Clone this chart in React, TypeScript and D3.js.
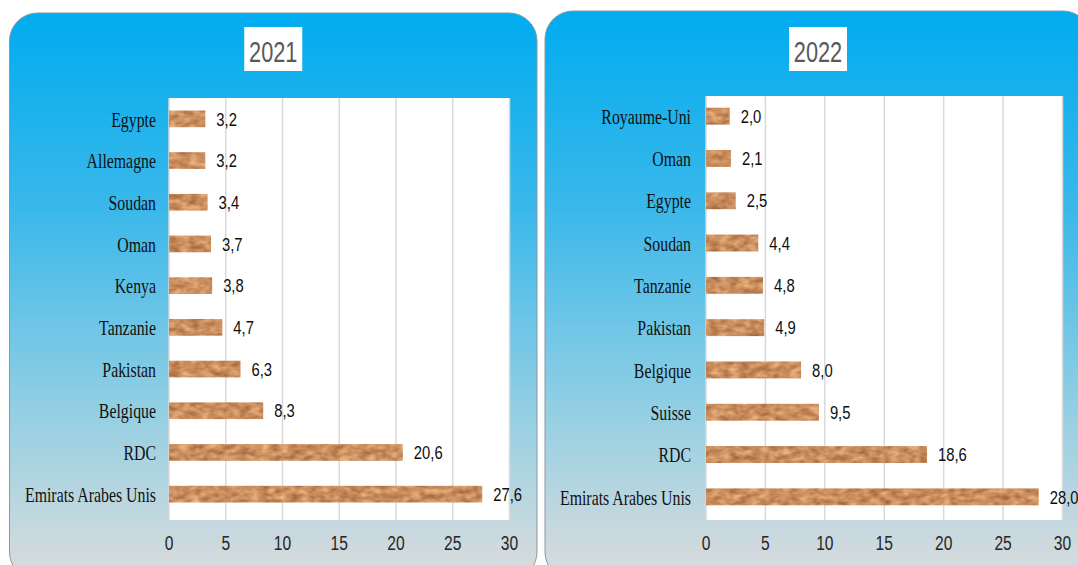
import React from "react";
import * as d3 from "d3";

const categories2021 = ["Egypte", "Allemagne", "Soudan", "Oman", "Kenya", "Tanzanie", "Pakistan", "Belgique", "RDC", "Emirats Arabes Unis"];
const values2021 = [3.2, 3.2, 3.4, 3.7, 3.8, 4.7, 6.3, 8.3, 20.6, 27.6];

const categories2022 = ["Royaume-Uni", "Oman", "Egypte", "Soudan", "Tanzanie", "Pakistan", "Belgique", "Suisse", "RDC", "Emirats Arabes Unis"];
const values2022 = [2.0, 2.1, 2.5, 4.4, 4.8, 4.9, 8.0, 9.5, 18.6, 28.0];

const xTicks = [0, 5, 10, 15, 20, 25, 30];
const xMax = 30;

const fmt = (v: number) => d3.format(".1f")(v).replace(".", ",");

const SANS = "'Liberation Sans', Arial, sans-serif";
const SERIF = "'Liberation Serif', 'Times New Roman', serif";

type PanelProps = {
  title: string;
  cats: string[];
  vals: number[];
  card: [number, number, number]; // x0, x1, top
  plotX: [number, number];
  plotY: [number, number];
  band: [number, number];
  labelRight: number;
};

function Panel({ title, cats, vals, card, plotX, plotY, band, labelRight }: PanelProps) {
  const [cx0, cx1, ctop] = card;
  const x = d3.scaleLinear().domain([0, xMax]).range(plotX);
  const y = d3.scaleBand<string>().domain(cats).range(band).paddingInner(0.6).paddingOuter(0.3);
  const titleCx = (cx0 + cx1) / 2;
  const bw = y.bandwidth();

  return (
    <g>
      <rect x={cx0} y={ctop} width={cx1 - cx0} height={580 - ctop} rx={28} ry={28}
        fill="url(#cardGrad)" stroke="#8a96a0" strokeWidth={1} />
      {/* title */}
      <rect x={titleCx - 29} y={27} width={58} height={44} fill="#fff" />
      <text transform={`translate(${titleCx},62) scale(0.75,1)`} textAnchor="middle"
        fontFamily={SANS} fontSize={29} fill="#595959">{title}</text>
      {/* plot area */}
      <rect x={plotX[0]} y={plotY[0]} width={plotX[1] - plotX[0]} height={plotY[1] - plotY[0]} fill="#fff" />
      {xTicks.map((t) => (
        <line key={"g" + t} x1={x(t)} x2={x(t)} y1={plotY[0]} y2={plotY[1]} stroke="#d9d9d9" strokeWidth={1.5} />
      ))}
      {xTicks.map((t) => (
        <text key={"t" + t} transform={`translate(${x(t)},550) scale(0.8,1)`} textAnchor="middle"
          fontFamily={SANS} fontSize={19.5} fill="#262626">{t}</text>
      ))}
      {cats.map((c, i) => {
        const yy = y(c)!;
        return (
          <g key={c}>
            <rect x={x(0)} y={yy} width={x(vals[i]) - x(0)} height={bw} fill="#c98b5a" filter="url(#sand)" />
            <text transform={`translate(${labelRight},${yy + bw / 2}) scale(0.72,1)`} dy="0.35em" textAnchor="end"
              fontFamily={SERIF} fontSize={22} fill="#111">{c}</text>
            <text transform={`translate(${x(vals[i]) + 11},${yy + bw / 2}) scale(0.8,1)`} dy="0.36em"
              fontFamily={SANS} fontSize={18.5} fill="#0d0d0d">{fmt(vals[i])}</text>
          </g>
        );
      })}
    </g>
  );
}

export default function App() {
  return (
    <svg width={1078} height={565} style={{ position: "absolute", left: 0, top: 0, background: "#fff" }}>
      <defs>
        <linearGradient id="cardGrad" x1="0" y1="0" x2="0" y2="1">
          <stop offset="0" stopColor="#00acef" />
          <stop offset="0.35" stopColor="#3bb8ea" />
          <stop offset="0.7" stopColor="#93cfe3" />
          <stop offset="1" stopColor="#dcdcdc" />
        </linearGradient>
        <filter id="sand" x="0" y="0" width="1" height="1" colorInterpolationFilters="sRGB">
          <feTurbulence type="fractalNoise" baseFrequency="0.1 0.18" numOctaves={2} seed={4} />
          <feColorMatrix type="matrix" values="0.42 0 0 0 0.58  0.45 0 0 0 0.33  0.38 0 0 0 0.18  0 0 0 0 1" />
          <feComposite in2="SourceGraphic" operator="in" />
        </filter>
      </defs>
      <Panel title="2021" cats={categories2021} vals={values2021}
        card={[9.5, 537, 13]} plotX={[169, 509.5]} plotY={[98, 520]} band={[98, 515]} labelRight={156} />
      <Panel title="2022" cats={categories2022} vals={values2022}
        card={[545, 1091, 11]} plotX={[706, 1062.5]} plotY={[96, 520]} band={[95, 518]} labelRight={691} />
    </svg>
  );
}
